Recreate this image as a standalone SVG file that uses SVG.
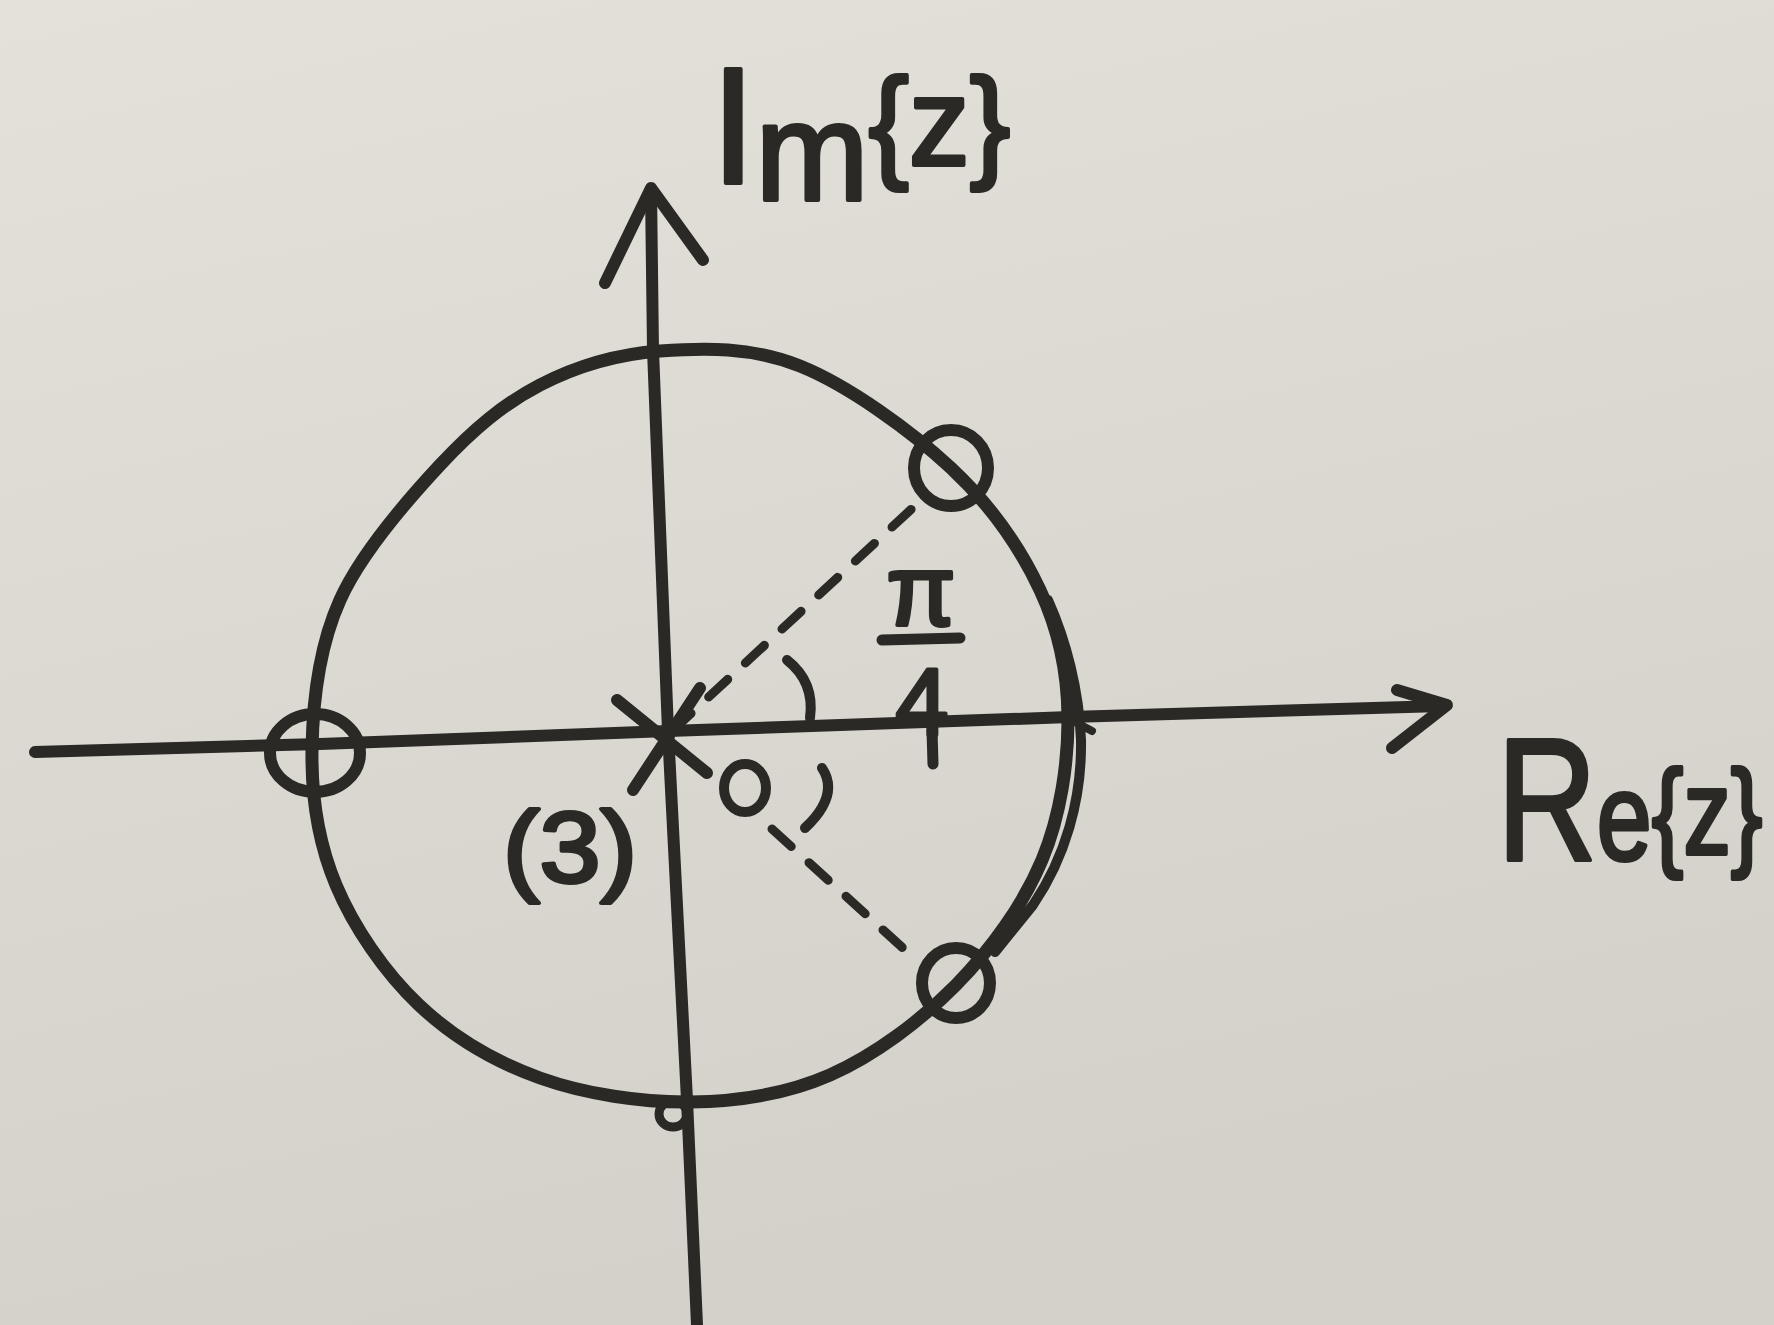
<svg xmlns="http://www.w3.org/2000/svg" width="1774" height="1325" viewBox="0 0 1774 1325">
<defs>
<linearGradient id="paper" x1="0" y1="0" x2="0.3" y2="1">
<stop offset="0" stop-color="#e3e1da"/>
<stop offset="1" stop-color="#d3d1c9"/>
</linearGradient>
<style>
.ink{fill:none;stroke:#2a2926;stroke-linecap:round;stroke-linejoin:round}
.axis{stroke-width:12}
.circ{stroke-width:13}
.dash{stroke-width:9;stroke-dasharray:26 24}
.hand{font-family:"Liberation Sans","DejaVu Sans",sans-serif;fill:#2a2926;stroke:#2a2926;stroke-width:4;stroke-linejoin:round}
</style>
</defs>
<rect width="1774" height="1325" fill="url(#paper)"/>

<g id="axes">
<path id="re-axis" class="ink axis" d="M35,752 L320,744 L668,731 L1070,717 L1442,706"/>
<polyline id="re-arrow" class="ink axis" points="1397,690 1447,705 1392,748"/>
<path id="im-axis" class="ink axis" d="M651,190 L653,350 L668,731 L687,1100 L697,1325"/>
<polyline id="im-arrow" class="ink axis" points="605,283 651,188 703,260"/>
</g>

<g id="unit-circle">
<path class="ink circ" d="M660,351 C703.3,347.8 751.5,346.5 800,366 C848.5,385.5 911,430.7 951,468 C991,505.3 1020.5,548.5 1040,590 C1059.5,631.5 1067.7,672 1068,717 C1068.3,762 1060.7,815.3 1042,860 C1023.3,904.7 991.3,949.2 956,985 C920.7,1020.8 874.3,1055.5 830,1075 C785.7,1094.5 738.3,1101.5 690,1102 C641.7,1102.5 585.2,1094.2 540,1078 C494.8,1061.8 453,1037.2 419,1005 C385,972.8 353.8,927.5 336,885 C318.2,842.5 311.3,797.5 312,750 C312.7,702.5 318.7,647.5 340,600 C361.3,552.5 406.7,500.8 440,465 C473.3,429.2 503.3,404 540,385 C576.7,366 616.7,354.2 660,351 Z"/>
<path class="ink" stroke-width="10" d="M1048,600 C1066,640 1079,690 1081,740 C1082,800 1065,858 1033,905 L995,952"/>
<path class="ink" stroke-width="8" d="M1075,722 L1092,731"/>
</g>

<g id="dashed-lines">
<path class="ink dash" d="M672,731 L918,503"/>
<path class="ink dash" d="M772,829 L905,950"/>
</g>

<g id="zero-upper">
<ellipse class="ink" stroke-width="12" cx="951" cy="468" rx="37" ry="38"/>
</g>
<g id="zero-left">
<ellipse class="ink" stroke-width="12" cx="315" cy="753" rx="45" ry="39"/>
</g>
<g id="zero-lower">
<ellipse class="ink" stroke-width="12" cx="956" cy="983" rx="34" ry="35"/>
</g>
<g id="zero-bottom-axis">
<ellipse class="ink" stroke-width="9" cx="673" cy="1114" rx="14" ry="13"/>
</g>

<g id="pole-origin">
<path class="ink" stroke-width="12" d="M617,700 L707,773 M633,790 L700,688"/>
<ellipse class="ink" stroke-width="10" cx="745" cy="788" rx="21" ry="24"/>
<path class="ink" stroke-width="10" d="M822,768 Q840,795 805,828"/>
</g>

<g id="angle">
<path class="ink" stroke-width="10" d="M787,660 Q815,682 810,718"/>
<path class="ink" stroke-width="11" d="M882,640 L960,638"/>
<text class="hand" x="921" y="625" font-size="100" text-anchor="middle">π</text>
<text class="hand" x="922" y="735" font-size="95" text-anchor="middle">4</text>
<path class="ink" stroke-width="11" d="M932,730 L933,764"/>
</g>

<g id="labels">
<text class="hand" transform="translate(711,183) scale(0.97,1)"><tspan font-size="165">I</tspan><tspan font-size="140" dy="17">m</tspan><tspan font-size="125" dy="-35">{z}</tspan></text>
<text class="hand" transform="translate(1497,860) scale(0.79,1)"><tspan font-size="175">R</tspan><tspan font-size="125">e</tspan><tspan font-size="120" dy="-6">{z}</tspan></text>
<text class="hand" x="503" y="882" font-size="100" textLength="134" lengthAdjust="spacingAndGlyphs">(3)</text>
</g>
</svg>
